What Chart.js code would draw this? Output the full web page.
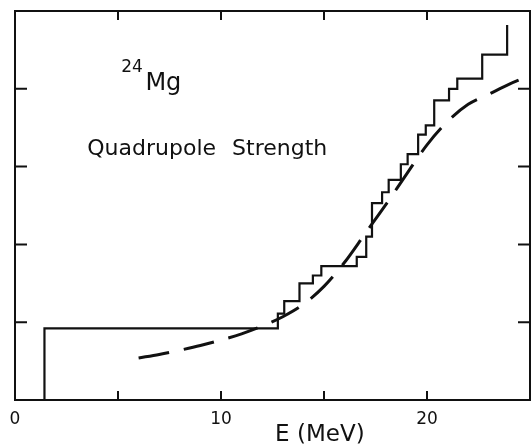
<!DOCTYPE html>
<html>
<head>
<meta charset="utf-8">
<script src="https://cdn.jsdelivr.net/npm/chart.js@4/dist/chart.umd.min.js"></script>
<style>
  html, body { margin: 0; padding: 0; background: #fff; }
  canvas { display: block; }
</style>
</head>
<body>
<canvas id="chart" width="531" height="444"></canvas>
<script>
// histogram of summed strength (step corners)
const stepEnergy = [1.43, 1.43, 12.76, 13.07, 13.81, 14.46, 14.87, 16.59, 17.05, 17.33, 17.82,
  18.14, 18.73, 19.06, 19.57, 19.94, 20.35, 21.07, 21.47, 22.68, 23.89];
const stepStrength = [0, 0.92, 1.11, 1.27, 1.50, 1.60, 1.72, 1.84, 2.10, 2.53, 2.67,
  2.83, 3.03, 3.16, 3.41, 3.53, 3.85, 4.00, 4.13, 4.44, 4.82];
// dashed smooth curve
const curveEnergy = [6, 7, 8, 9, 10, 11, 12, 13, 14, 15, 16, 17, 18, 19, 20, 21, 22, 23, 24, 25];
const curveStrength = [0.54, 0.585, 0.64, 0.70, 0.77, 0.85, 0.95, 1.07, 1.23, 1.46, 1.77,
  2.14, 2.51, 2.90, 3.28, 3.58, 3.80, 3.93, 4.06, 4.17];
// ticks
const xTickMarks = [5, 10, 15, 20];
const xTickValues = [0, 10, 20];
const xTickLabels = ['0', '10', '20'];
const yTickMarks = [1, 2, 3, 4];

const FONT = '"DejaVu Sans", sans-serif';

const toPoints = function (xs, ys) {
  return xs.map((x, i) => ({ x: x, y: ys[i] }));
};

// frame, inward ticks, tick labels and the text on the plot
const framePlugin = {
  id: 'frame',
  afterDraw(chart) {
    const ctx = chart.ctx;
    const a = chart.chartArea;
    const xs = chart.scales.x;
    const ys = chart.scales.y;
    ctx.save();
    ctx.strokeStyle = '#111';
    ctx.lineWidth = 2;
    ctx.strokeRect(a.left, a.top, a.right - a.left, a.bottom - a.top);
    ctx.beginPath();
    for (let v of xTickMarks) {
      const px = xs.getPixelForValue(v);
      ctx.moveTo(px, a.bottom);
      ctx.lineTo(px, a.bottom - 9);
      ctx.moveTo(px, a.top);
      ctx.lineTo(px, a.top + 9);
    }
    for (let v of yTickMarks) {
      const py = ys.getPixelForValue(v);
      ctx.moveTo(a.left, py);
      ctx.lineTo(a.left + 12, py);
      ctx.moveTo(a.right, py);
      ctx.lineTo(a.right - 12, py);
    }
    ctx.stroke();

    ctx.fillStyle = '#111';
    // x tick labels
    ctx.textAlign = 'center';
    ctx.textBaseline = 'alphabetic';
    ctx.font = '17px ' + FONT;
    xTickValues.forEach((v, i) => {
      ctx.fillText(xTickLabels[i], xs.getPixelForValue(v), a.bottom + 24);
    });
    ctx.font = '23px ' + FONT;
    ctx.fillText('E (MeV)', xs.getPixelForValue(14.8), a.bottom + 41);

    ctx.textAlign = 'left';
    ctx.font = '17px ' + FONT;
    ctx.fillText('24', xs.getPixelForValue(5.16), ys.getPixelForValue(4.22));
    ctx.font = '24px ' + FONT;
    ctx.fillText('Mg', xs.getPixelForValue(6.33), ys.getPixelForValue(3.98));
    ctx.font = '22px ' + FONT;
    ctx.wordSpacing = '9px';
    ctx.fillText('Quadrupole Strength', xs.getPixelForValue(3.51), ys.getPixelForValue(3.15));
    ctx.wordSpacing = '0px';
    ctx.restore();
  },
};

const init = function () {
  const canvas = document.querySelector('#chart');
  new Chart(canvas, {
    type: 'line',
    data: {
      datasets: [
        {
          data: toPoints(stepEnergy, stepStrength),
          stepped: 'before',
          borderColor: '#111',
          borderWidth: 2.2,
          pointRadius: 0,
          fill: false,
        },
        {
          data: toPoints(curveEnergy, curveStrength),
          borderColor: '#111',
          borderWidth: 3,
          borderDash: [31, 15],
          cubicInterpolationMode: 'monotone',
          pointRadius: 0,
          fill: false,
        },
      ],
    },
    options: {
      responsive: false,
      animation: false,
      devicePixelRatio: 1,
      layout: { padding: { left: 15, right: 1, top: 11, bottom: 44 } },
      plugins: {
        legend: { display: false },
        tooltip: { enabled: false },
      },
      scales: {
        x: { type: 'linear', min: 0, max: 25, display: false },
        y: { type: 'linear', min: 0, max: 5, display: false },
      },
    },
    plugins: [framePlugin],
  });
};
document.addEventListener('DOMContentLoaded', init);
</script>
</body>
</html>
